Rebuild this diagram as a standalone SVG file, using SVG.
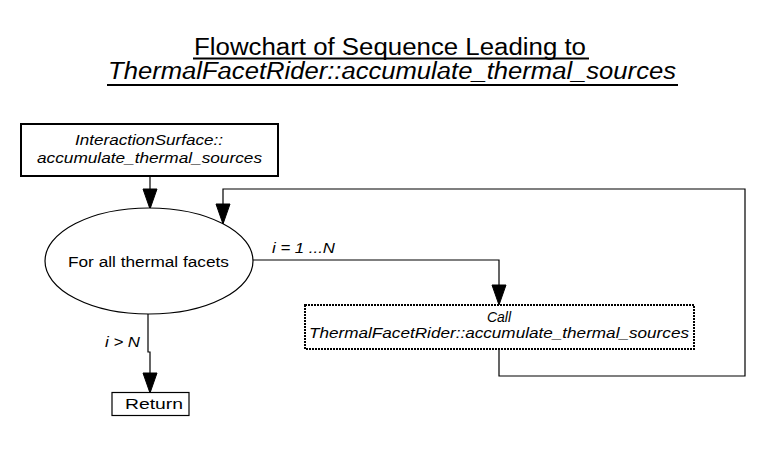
<svg xmlns="http://www.w3.org/2000/svg" width="772" height="449" viewBox="0 0 772 449">
<style>
text{font-family:"Liberation Sans",Arial,sans-serif;fill:#000}
.t{font-size:23px}
.n{font-size:14px}
.i{font-style:italic}
.c{stroke:#000;stroke-width:1.2;fill:none}
.ul{stroke:#000;stroke-width:2}
</style>
<defs>
<marker id="a" viewBox="0 0 20 14" refX="19" refY="7" markerWidth="20" markerHeight="14" markerUnits="userSpaceOnUse" orient="auto" overflow="visible">
<path d="M0,0 L20,7 L0,14 Z" fill="#000" stroke="#000" stroke-width="1"/>
</marker>
</defs>
<rect width="772" height="449" fill="#fff"/>
<g id="title">
<text class="t" x="194" y="55" textLength="392" lengthAdjust="spacingAndGlyphs">Flowchart of Sequence Leading to</text>
<line class="ul" x1="193" y1="58.5" x2="589" y2="58.5"/>
<text class="t i" x="108" y="79" textLength="568" lengthAdjust="spacingAndGlyphs">ThermalFacetRider::accumulate_thermal_sources</text>
<line class="ul" x1="107" y1="85" x2="678" y2="85"/>
</g>
<g id="connectors">
<path class="c" d="M150,177 L150,208" marker-end="url(#a)"/>
<path class="c" d="M499,350 L499,376 L745,376 L745,189 L223,189 L223,223" marker-end="url(#a)"/>
<path class="c" d="M253,260 L499,260 L499,304" marker-end="url(#a)"/>
<path class="c" d="M148,314 L148,352 L150,352 L150,392" marker-end="url(#a)"/>
<text class="n i" x="272" y="253" textLength="63" lengthAdjust="spacingAndGlyphs">i = 1 ...N</text>
<text class="n i" x="105" y="347" textLength="35" lengthAdjust="spacingAndGlyphs">i &gt; N</text>
</g>
<g id="start">
<rect x="21" y="124" width="257" height="52" fill="#fff" stroke="#000" stroke-width="2"/>
<text class="n i" x="75" y="145" textLength="148" lengthAdjust="spacingAndGlyphs">InteractionSurface::</text>
<text class="n i" x="37" y="163" textLength="225" lengthAdjust="spacingAndGlyphs">accumulate_thermal_sources</text>
</g>
<g id="loop">
<ellipse cx="149" cy="261" rx="104" ry="53" fill="#fff" stroke="#000" stroke-width="1.2"/>
<text class="n" x="68" y="267" textLength="161" lengthAdjust="spacingAndGlyphs">For all thermal facets</text>
</g>
<g id="call">
<rect x="305" y="305" width="389" height="44" fill="#fff" stroke="#000" stroke-width="2" stroke-dasharray="2 1"/>
<text class="n i" x="499" y="322" text-anchor="middle">Call</text>
<text class="n i" x="309" y="338" textLength="380" lengthAdjust="spacingAndGlyphs">ThermalFacetRider::accumulate_thermal_sources</text>
</g>
<g id="return">
<rect x="112" y="392.5" width="77" height="23" fill="#fff" stroke="#000" stroke-width="1.2"/>
<text class="n" x="125" y="409" textLength="58" lengthAdjust="spacingAndGlyphs">Return</text>
</g>
</svg>
